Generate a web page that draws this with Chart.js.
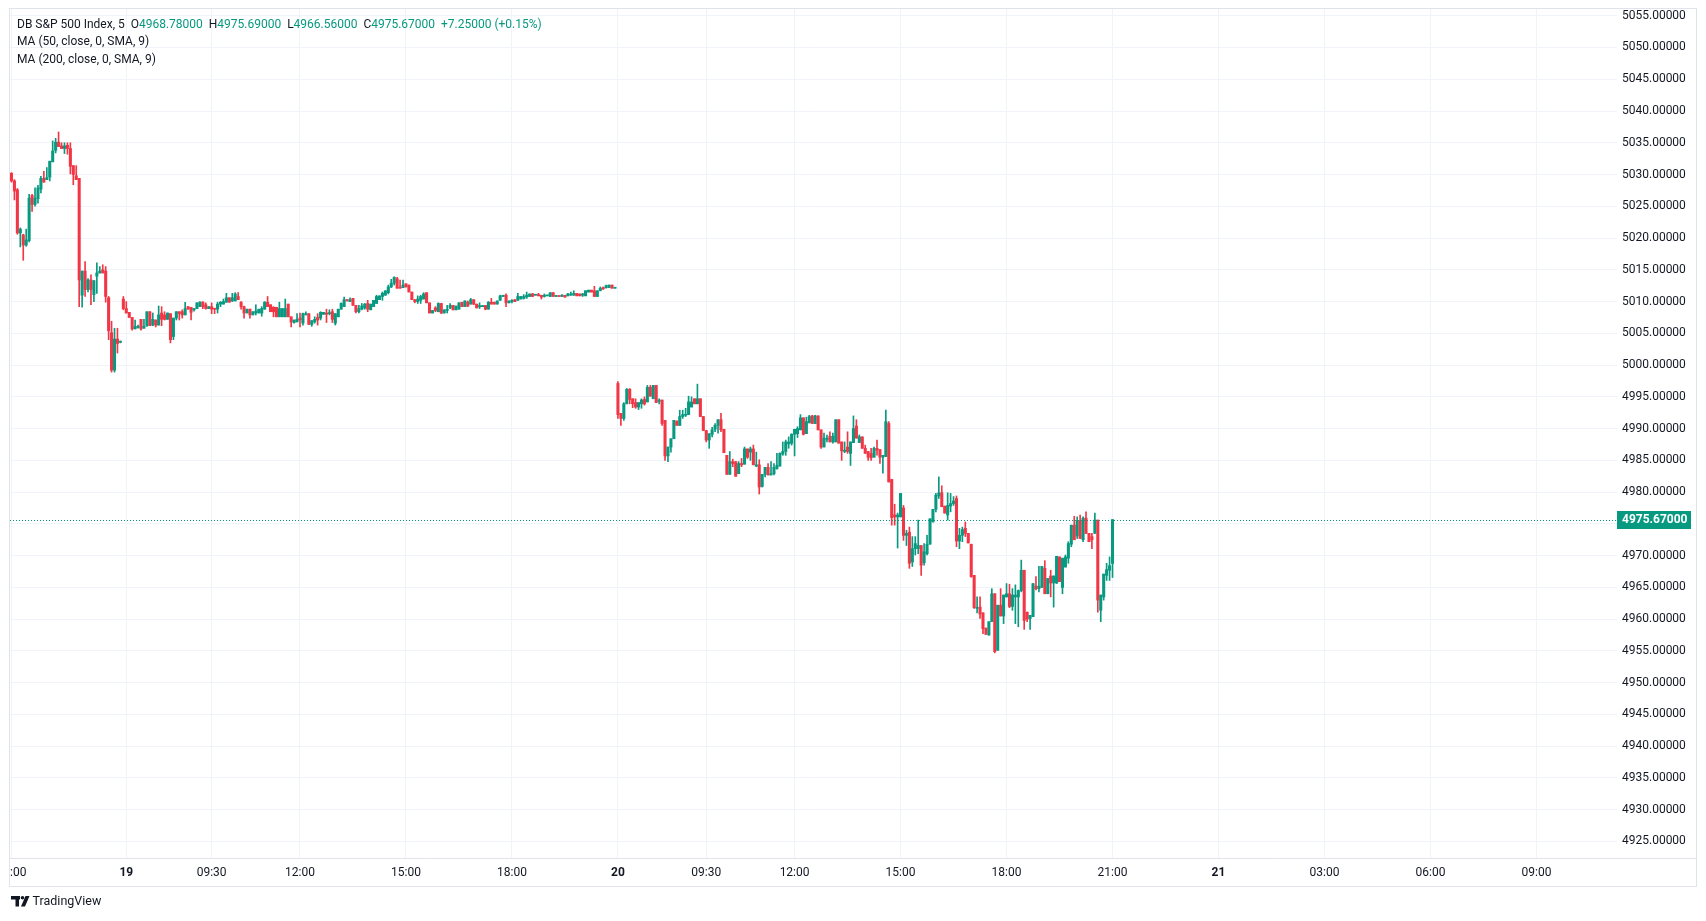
<!DOCTYPE html>
<html>
<head>
<meta charset="utf-8">
<script src="https://cdn.jsdelivr.net/npm/chart.js@4.4.1/dist/chart.umd.min.js"></script>
<style>
  html, body { margin: 0; padding: 0; background: #ffffff; }
  #wrap { width: 1706px; height: 921px; }
</style>
</head>
<body>
<div id="wrap"><canvas id="chart" width="1706" height="921"></canvas></div>
<script>
// 5 minute candles, [open, high, low, close]
const session19 = [
  [5030.2,5030.3,5028.8,5029.0],[5029.0,5029.2,5026.0,5027.4],[5027.6,5027.8,5020.6,5020.8],[5020.8,5021.6,5018.6,5021.4],
  [5020.5,5020.6,5016.5,5018.9],[5018.9,5021.4,5018.7,5019.7],[5019.6,5026.9,5019.4,5026.3],[5026.7,5026.9,5024.2,5025.3],
  [5025.3,5027.9,5025.0,5026.3],[5026.2,5028.3,5025.5,5027.9],[5027.7,5029.7,5027.1,5029.4],[5029.4,5030.5,5028.8,5028.8],
  [5029.2,5031.1,5029.2,5029.5],[5029.6,5032.1,5029.0,5032.1],[5032.0,5035.3,5032.0,5033.7],[5033.8,5035.7,5033.4,5035.1],
  [5035.1,5036.7,5034.4,5034.4],[5034.5,5035.0,5034.1,5034.1],[5034.1,5035.0,5033.3,5034.5],[5034.6,5035.0,5033.2,5034.1],
  [5034.1,5035.0,5030.1,5031.3],[5031.4,5031.4,5028.4,5030.0],[5029.8,5031.4,5029.2,5029.2],[5029.4,5029.4,5009.2,5013.4],
  [5011.0,5014.8,5009.1,5014.8],[5014.8,5016.3,5010.8,5011.9],[5011.9,5013.6,5011.5,5013.4],[5013.4,5014.2,5009.5,5011.9],
  [5011.1,5013.3,5010.0,5013.3],[5014.0,5016.1,5011.3,5014.5],[5014.5,5015.5,5014.5,5014.8],[5015.0,5015.8,5014.5,5014.5],
  [5014.8,5015.5,5009.9,5010.8],[5010.6,5010.8,5004.0,5005.4],[5005.1,5006.9,4998.9,4999.2],[4999.2,5005.8,4998.9,5004.1],
  [5004.1,5005.8,5001.9,5003.4],[5003.6,5003.8,5003.5,5003.7],[5010.4,5010.8,5008.7,5008.9],[5008.9,5010.0,5008.2,5008.2],
  [5008.3,5008.3,5007.5,5007.5],[5007.5,5007.5,5005.5,5005.7],[5005.7,5007.1,5005.7,5006.1],[5005.9,5006.3,5005.8,5006.1],
  [5007.2,5007.2,5005.5,5005.7],[5005.8,5007.2,5005.8,5006.1],[5006.2,5008.4,5006.1,5008.4],[5008.4,5008.4,5006.2,5006.2],
  [5006.3,5008.2,5006.2,5007.2],[5007.1,5007.1,5006.0,5006.3],[5006.3,5009.3,5006.3,5007.9],[5008.2,5009.2,5006.2,5007.2],
  [5007.9,5008.4,5007.1,5007.2],[5007.2,5008.2,5007.2,5008.2],[5008.1,5008.1,5003.5,5004.0],[5004.5,5007.4,5004.0,5007.4],
  [5007.4,5008.4,5007.1,5008.4],[5008.4,5008.4,5007.1,5008.1],[5008.4,5008.7,5007.4,5007.9],[5007.9,5009.9,5007.9,5008.9],
  [5009.2,5009.2,5008.8,5008.8],[5009.1,5009.1,5007.1,5008.3],[5008.7,5008.9,5008.5,5008.9],[5008.9,5009.8,5008.9,5009.8],
  [5009.2,5010.0,5009.2,5009.9],[5009.9,5010.0,5008.9,5009.2],[5009.5,5009.8,5008.8,5008.9],[5008.9,5009.2,5008.9,5009.2],
  [5009.2,5009.8,5008.1,5008.8],[5008.9,5008.9,5008.1,5008.8],[5008.8,5009.9,5008.2,5009.6],[5009.6,5010.0,5009.2,5009.9],
  [5009.6,5010.4,5009.6,5010.0],[5009.9,5011.3,5009.9,5010.6],[5010.6,5010.6,5009.9,5009.9],[5010.1,5011.3,5010.0,5010.6],
  [5010.1,5011.4,5010.1,5011.2],[5010.8,5011.4,5010.3,5010.3],[5009.9,5010.0,5008.8,5009.2],[5009.2,5009.3,5007.4,5008.2],
  [5008.2,5008.8,5008.2,5008.8],[5008.8,5008.8,5007.4,5007.9],[5007.9,5008.4,5007.9,5008.4],[5008.2,5009.5,5007.9,5008.5],
  [5008.2,5008.8,5008.2,5008.8],[5008.2,5009.2,5007.7,5008.9],[5008.8,5010.0,5008.8,5009.9],[5009.9,5010.8,5009.2,5009.2],
  [5009.5,5009.5,5008.4,5008.4],[5009.1,5009.2,5007.6,5008.4],[5009.1,5009.1,5007.6,5007.6],[5007.6,5009.9,5007.6,5008.9],
  [5007.6,5008.9,5007.6,5008.9],[5007.6,5010.4,5007.6,5008.9],[5009.6,5009.6,5007.6,5007.6],[5007.6,5007.6,5006.0,5006.8],
  [5006.7,5007.1,5006.6,5007.1],[5006.8,5008.1,5006.8,5007.2],[5007.4,5008.2,5006.0,5007.1],[5006.6,5008.2,5006.3,5008.1],
  [5007.9,5008.4,5007.9,5008.1],[5008.1,5008.1,5006.4,5006.4],[5006.4,5007.0,5006.1,5007.0],[5006.8,5007.6,5006.6,5007.2],
  [5007.5,5008.1,5006.3,5007.1],[5007.4,5008.4,5007.1,5008.3],[5008.0,5008.3,5008.0,5008.3],[5008.2,5008.8,5006.7,5008.0],
  [5008.1,5008.7,5007.9,5008.2],[5008.4,5008.8,5006.7,5007.2],[5006.6,5008.1,5006.3,5008.1],[5007.6,5008.8,5007.6,5008.8],
  [5008.8,5009.8,5008.8,5009.7],[5009.2,5010.7,5009.2,5010.3],[5010.3,5010.3,5010.1,5010.1],[5010.0,5010.6,5010.0,5010.3],
  [5010.5,5010.5,5009.4,5009.4],[5009.4,5009.4,5008.2,5008.4],[5008.4,5009.4,5008.2,5008.9],[5008.8,5009.7,5008.7,5009.3],
  [5009.0,5009.7,5008.8,5009.6],[5009.7,5010.2,5008.4,5008.8],[5008.7,5009.6,5008.7,5009.6],[5009.2,5010.2,5009.2,5010.2],
  [5009.7,5011.0,5009.7,5010.8],[5010.3,5010.9,5010.3,5010.9],[5010.8,5011.5,5010.2,5011.3],[5011.0,5011.7,5011.0,5011.7],
  [5011.4,5012.6,5011.2,5012.3],[5012.3,5013.5,5012.2,5012.9],[5012.9,5013.9,5012.6,5013.8],[5013.6,5013.8,5012.1,5012.1],
  [5012.2,5013.4,5012.1,5012.1],[5012.2,5013.4,5012.2,5012.6],[5012.8,5012.8,5012.3,5012.3],[5012.6,5012.6,5011.5,5011.5],
  [5011.5,5011.5,5010.3,5010.3],[5010.3,5010.3,5009.8,5010.0],[5010.0,5010.9,5009.7,5010.4],[5010.2,5011.0,5009.7,5010.8],
  [5010.4,5011.4,5010.4,5011.2],[5011.4,5011.4,5009.8,5009.8],[5009.8,5009.8,5008.2,5008.2],[5008.2,5008.6,5008.2,5008.6],
  [5009.0,5009.2,5008.4,5008.6],[5008.4,5009.8,5008.4,5009.7],[5009.7,5009.7,5008.1,5008.2],[5008.2,5008.7,5008.2,5008.7],
  [5008.6,5009.4,5008.2,5008.8],[5009.0,5009.7,5008.9,5009.4],[5009.4,5009.4,5008.7,5008.7],[5008.7,5009.3,5008.7,5009.3],
  [5008.8,5009.8,5008.8,5009.8],[5009.9,5009.9,5009.2,5009.2],[5009.2,5010.1,5009.2,5010.1],[5009.9,5010.1,5009.2,5009.3],
  [5009.6,5010.5,5009.6,5010.3],[5010.3,5010.3,5009.5,5009.6],[5009.6,5009.6,5009.0,5009.0],[5009.2,5009.8,5008.9,5009.3],
  [5009.2,5009.4,5009.2,5009.3],[5009.4,5009.4,5008.7,5008.8],[5008.8,5010.0,5008.8,5009.9],[5009.9,5010.5,5009.6,5009.6],
  [5009.9,5009.9,5009.6,5009.6],[5009.6,5010.1,5009.6,5010.1],[5010.2,5011.0,5010.2,5010.9],[5010.8,5011.0,5010.8,5011.0],
  [5011.0,5011.2,5009.2,5009.8],[5009.8,5010.1,5009.8,5010.1],[5010.0,5010.3,5009.8,5010.2],[5010.3,5010.3,5010.0,5010.0],
  [5010.2,5011.3,5010.2,5010.8],[5010.4,5010.8,5010.4,5010.8],[5010.5,5011.1,5010.4,5010.8],[5010.7,5011.5,5010.5,5011.0],
  [5010.8,5011.2,5010.8,5011.2],[5011.2,5011.3,5010.8,5010.8],[5011.0,5011.1,5011.0,5011.1],[5011.1,5011.3,5010.9,5010.9],
  [5011.0,5011.0,5010.4,5010.7],[5010.8,5011.2,5010.7,5011.0],[5010.9,5011.0,5010.9,5011.0],[5010.8,5011.4,5010.8,5011.4],
  [5011.4,5011.4,5010.8,5010.8],[5010.8,5011.0,5010.8,5010.9],[5010.9,5010.9,5010.8,5010.8],[5010.8,5011.1,5010.8,5011.0],
  [5011.0,5011.0,5010.7,5010.7],[5010.9,5011.3,5010.9,5011.2],[5011.0,5011.5,5011.0,5011.2],[5011.0,5011.7,5011.0,5011.3],
  [5011.3,5011.3,5010.9,5010.9],[5011.2,5011.2,5010.9,5010.9],[5011.0,5011.3,5010.8,5011.2],[5010.9,5011.7,5010.9,5011.7],
  [5011.5,5011.8,5011.5,5011.8],[5011.8,5011.8,5011.5,5011.5],[5011.7,5012.4,5010.8,5010.8],[5010.8,5011.7,5010.8,5011.7],
  [5011.7,5012.3,5011.7,5012.1],[5012.2,5012.3,5011.9,5012.0],[5012.2,5012.6,5012.1,5012.5],[5012.2,5012.6,5012.2,5012.6],
  [5012.6,5012.6,5012.1,5012.1],[5012.1,5012.2,5012.1,5012.2]
];

const session20 = [
  [4997.1,4997.4,4991.6,4992.2],[4992.4,4992.4,4990.5,4991.6],[4991.6,4994.1,4991.3,4993.9],[4993.9,4996.3,4993.9,4996.2],
  [4996.2,4996.3,4993.9,4994.6],[4994.7,4994.7,4993.3,4993.9],[4994.1,4994.7,4993.2,4993.4],[4993.4,4994.1,4993.0,4994.1],
  [4993.9,4994.7,4993.2,4994.5],[4994.6,4995.0,4993.7,4993.9],[4994.2,4996.8,4994.2,4996.5],[4996.5,4996.8,4995.1,4995.1],
  [4994.7,4996.8,4994.7,4996.8],[4996.8,4996.8,4994.1,4994.1],[4994.3,4994.7,4993.9,4994.5],[4994.5,4994.5,4990.5,4990.8],
  [4991.3,4991.3,4985.0,4985.7],[4985.7,4987.1,4984.8,4987.1],[4987.1,4988.4,4986.3,4988.4],[4988.4,4991.3,4988.4,4991.3],
  [4991.2,4991.2,4990.5,4990.5],[4990.5,4992.9,4990.5,4991.9],[4991.9,4992.9,4991.6,4992.2],[4992.1,4993.2,4991.9,4992.2],
  [4992.2,4995.1,4992.2,4994.2],[4993.4,4995.0,4993.4,4994.2],[4994.7,4994.7,4993.9,4993.9],[4993.9,4997.0,4993.9,4994.7],
  [4994.7,4994.7,4991.9,4991.9],[4991.9,4991.9,4989.7,4989.7],[4989.7,4989.7,4987.9,4988.2],[4988.2,4989.2,4986.9,4989.2],
  [4989.1,4990.2,4988.7,4989.8],[4989.9,4990.8,4989.5,4990.5],[4990.5,4991.4,4989.3,4991.4],[4991.4,4992.4,4989.5,4989.8],
  [4989.9,4989.9,4986.2,4986.2],[4985.8,4985.8,4982.8,4982.8],[4982.8,4986.4,4982.8,4984.8],[4984.8,4985.2,4984.0,4984.5],
  [4984.8,4984.8,4982.5,4982.5],[4982.9,4984.8,4982.9,4984.5],[4984.5,4985.3,4984.0,4984.3],[4984.4,4987.1,4984.4,4986.8],
  [4986.8,4986.8,4985.3,4985.5],[4986.3,4987.1,4985.0,4986.8],[4986.8,4987.4,4984.3,4984.3],[4984.1,4986.3,4984.0,4984.3],
  [4984.3,4985.1,4979.7,4980.8],[4980.9,4982.8,4980.8,4982.8],[4982.8,4983.9,4982.4,4983.9],[4983.9,4984.5,4982.7,4982.7],
  [4982.7,4984.8,4982.7,4982.9],[4982.9,4984.5,4982.7,4983.9],[4983.7,4986.1,4983.6,4984.2],[4984.1,4986.2,4984.1,4986.1],
  [4986.0,4987.9,4985.8,4986.4],[4986.4,4988.2,4985.8,4987.9],[4987.6,4988.7,4986.9,4987.9],[4987.7,4989.2,4987.4,4989.1],
  [4989.1,4989.9,4985.7,4989.9],[4989.2,4990.3,4988.6,4990.0],[4989.8,4992.2,4989.8,4991.7],[4991.7,4991.7,4989.0,4989.1],
  [4989.2,4991.8,4989.2,4991.1],[4990.9,4992.1,4990.9,4991.9],[4992.0,4992.1,4990.8,4990.8],[4990.8,4992.1,4990.8,4992.0],
  [4992.0,4992.0,4989.8,4989.8],[4989.8,4989.8,4986.9,4987.1],[4987.1,4989.3,4987.1,4988.5],[4988.3,4989.0,4987.9,4988.5],
  [4988.8,4989.5,4987.9,4987.9],[4987.9,4989.3,4987.7,4988.8],[4987.9,4991.4,4987.9,4991.4],[4991.4,4991.4,4987.7,4987.7],
  [4987.9,4987.9,4985.0,4986.5],[4986.4,4987.9,4986.2,4986.6],[4987.1,4989.5,4986.1,4986.4],[4986.1,4987.9,4984.2,4987.9],
  [4987.8,4992.0,4987.8,4990.0],[4990.4,4991.4,4988.5,4988.5],[4987.8,4989.0,4987.8,4988.7],[4988.7,4988.7,4986.9,4986.9],
  [4986.9,4987.4,4986.1,4986.1],[4986.4,4986.4,4985.0,4985.5],[4986.1,4986.9,4985.0,4985.4],[4985.5,4987.1,4985.5,4986.9],
  [4986.9,4988.2,4985.8,4986.6],[4986.7,4986.7,4984.5,4985.5],[4985.5,4985.8,4983.0,4985.8],[4985.6,4992.9,4985.6,4991.1],
  [4990.8,4991.1,4981.6,4981.6],[4982.0,4982.0,4974.8,4976.0],[4976.4,4978.1,4974.8,4976.1],[4976.1,4976.7,4971.2,4976.4],
  [4976.1,4979.8,4976.1,4979.8],[4977.5,4977.9,4972.4,4973.2],[4973.2,4974.0,4971.6,4973.5],[4973.7,4974.5,4968.0,4968.8],
  [4969.0,4973.0,4968.3,4971.1],[4971.1,4973.0,4970.1,4971.9],[4971.1,4975.6,4970.3,4971.6],[4971.6,4971.6,4966.9,4968.5],
  [4968.9,4971.9,4968.5,4970.6],[4970.3,4973.2,4970.1,4971.8],[4971.8,4975.8,4971.8,4975.8],[4975.3,4977.3,4975.3,4977.3],
  [4977.3,4979.8,4976.9,4979.5],[4979.4,4982.4,4979.0,4979.9],[4979.9,4981.0,4977.7,4977.7],[4977.8,4977.8,4976.7,4976.7],
  [4976.4,4979.9,4975.6,4977.9],[4977.8,4979.8,4976.9,4978.2],[4978.2,4979.3,4977.9,4978.6],[4979.0,4979.4,4971.4,4972.3],
  [4972.3,4974.3,4971.1,4973.2],[4973.2,4974.5,4972.2,4974.1],[4974.3,4975.3,4973.0,4973.5],[4973.5,4973.5,4972.0,4972.0],
  [4971.8,4971.8,4966.6,4966.7],[4966.9,4966.9,4961.7,4961.8],[4961.7,4963.5,4961.0,4961.8],[4961.9,4963.5,4960.1,4960.8],
  [4961.0,4961.0,4957.7,4958.5],[4958.6,4958.6,4957.6,4957.6],[4957.5,4959.6,4957.5,4959.6],[4959.6,4964.8,4959.6,4964.0],
  [4964.0,4964.0,4954.7,4954.9],[4955.1,4962.2,4955.1,4962.2],[4962.2,4964.8,4960.5,4960.5],[4960.5,4963.8,4959.3,4963.8],
  [4963.5,4965.6,4963.5,4964.0],[4964.0,4965.5,4961.8,4962.0],[4962.0,4964.8,4961.4,4963.8],[4963.5,4965.4,4959.3,4963.8],
  [4963.5,4964.6,4958.8,4964.5],[4964.5,4969.3,4964.3,4967.7],[4967.7,4967.7,4958.4,4959.8],[4961.1,4961.1,4959.6,4960.0],
  [4960.1,4960.6,4958.4,4960.6],[4960.4,4965.6,4960.4,4965.6],[4965.2,4966.7,4964.6,4964.8],[4964.8,4968.3,4964.3,4965.2],
  [4965.0,4968.3,4965.0,4968.3],[4968.0,4969.2,4964.0,4964.0],[4964.0,4966.4,4964.0,4966.4],[4966.8,4967.7,4963.5,4965.7],
  [4965.7,4966.8,4961.9,4966.8],[4965.7,4969.9,4965.6,4969.9],[4969.8,4969.8,4965.9,4965.9],[4965.0,4969.6,4964.0,4969.6],
  [4968.2,4970.1,4968.2,4969.8],[4969.6,4972.2,4968.8,4971.9],[4971.8,4974.8,4971.4,4974.8],[4974.8,4976.2,4972.5,4972.5],
  [4973.1,4976.1,4972.7,4975.5],[4975.5,4976.4,4972.7,4972.7],[4972.5,4976.1,4972.2,4975.9],[4975.9,4976.9,4973.5,4973.5],
  [4973.5,4973.5,4972.2,4972.2],[4973.0,4973.5,4971.1,4972.5],[4973.5,4976.7,4973.5,4975.6],[4975.6,4975.6,4961.1,4963.0],
  [4961.4,4963.8,4959.6,4963.8],[4963.5,4967.1,4963.0,4967.1],[4966.9,4968.8,4966.1,4967.8],[4967.7,4969.8,4966.1,4968.42],
  [4968.78,4975.69,4966.56,4975.67]
];

const priceTicks = [4925,4930,4935,4940,4945,4950,4955,4960,4965,4970,4975,4980,4985,4990,4995,
  5000,5005,5010,5015,5020,5025,5030,5035,5040,5045,5050,5055];
const timeTickIdx = [0,39,68,98,134,170,206,236,266,302,338,374,410,446,482,518];
const timeTickText = ["18:00","19","09:30","12:00","15:00","18:00","20","09:30","12:00","15:00","18:00","21:00","21","03:00","06:00","09:00"];
const dayLabels = ["19","20","21"];

const symbolName = "DB S&P 500 Index, 5";
const maLines = ["MA (50, close, 0, SMA, 9)", "MA (200, close, 0, SMA, 9)"];

const UP = "#089981";
const DOWN = "#f23645";
const TEXT = "#131722";
const GRID = "#f0f3fa";
const BORDER = "#e0e3eb";
const FONT = "Roboto, 'Noto Sans', sans-serif";

const candles = session19.concat(session20);
const last = candles[candles.length - 1];
const prev = candles[candles.length - 2];

const colorOf = (i) => (candles[i][3] >= candles[i][0] ? UP : DOWN);

const wickData = candles.map((c, i) => ({ x: i, y: [c[2], c[1]] }));
const bodyData = candles.map((c, i) => ({ x: i, y: [Math.min(c[0], c[3]), Math.max(c[0], c[3])] }));

// stuff drawn on top: last price line + tag, header text, frame, logo
const overlay = {
  id: "overlay",
  afterDatasetsDraw(chart) {
    const { ctx, chartArea } = chart;
    const y = Math.round(chart.scales.y.getPixelForValue(last[3])) + 0.5;
    ctx.save();
    ctx.strokeStyle = UP;
    ctx.lineWidth = 1;
    ctx.setLineDash([1, 2]);
    ctx.beginPath();
    ctx.moveTo(chartArea.left, y);
    ctx.lineTo(chartArea.right, y);
    ctx.stroke();
    ctx.restore();
  },
  afterDraw(chart) {
    const { ctx, chartArea } = chart;
    const yScale = chart.scales.y;
    ctx.save();

    // hide the cut off first time label left of the frame
    ctx.fillStyle = "#ffffff";
    ctx.fillRect(0, 0, chartArea.left, chart.height);

    // frame
    ctx.strokeStyle = BORDER;
    ctx.lineWidth = 1;
    ctx.strokeRect(chartArea.left - 0.5, chartArea.top - 0.5, yScale.right - chartArea.left + 1, chart.scales.x.bottom - chartArea.top + 1);
    ctx.beginPath();
    ctx.moveTo(chartArea.left, chartArea.bottom + 0.5);
    ctx.lineTo(yScale.right, chartArea.bottom + 0.5);
    ctx.stroke();

    // last price tag
    const py = yScale.getPixelForValue(last[3]);
    ctx.fillStyle = UP;
    ctx.fillRect(chartArea.right, Math.round(py) - 9, 74, 18);
    ctx.fillStyle = "#ffffff";
    ctx.font = "bold 12px " + FONT;
    ctx.textBaseline = "middle";
    ctx.textAlign = "left";
    ctx.fillText(last[3].toFixed(5), chartArea.right + 5, py + 0.5);

    // header
    const chg = last[3] - prev[3];
    const pct = (chg / prev[3]) * 100;
    const sign = chg >= 0 ? "+" : "";
    const parts = [
      [symbolName + "  O", TEXT], [last[0].toFixed(5), UP],
      ["  H", TEXT], [last[1].toFixed(5), UP],
      ["  L", TEXT], [last[2].toFixed(5), UP],
      ["  C", TEXT], [last[3].toFixed(5), UP],
      ["  " + sign + chg.toFixed(5) + " (" + sign + pct.toFixed(2) + "%)", UP]
    ];
    ctx.font = "12px " + FONT;
    let x = 17;
    parts.forEach(([t, col]) => {
      ctx.fillStyle = col;
      ctx.fillText(t, x, 25);
      x += ctx.measureText(t).width;
    });
    ctx.fillStyle = TEXT;
    maLines.forEach((t, k) => ctx.fillText(t, 17, 42 + k * 17.5));

    // TradingView mark
    ctx.fillStyle = TEXT;
    ctx.fillRect(11, 896, 9, 3.5);
    ctx.fillRect(15.5, 896, 3.5, 10.5);
    ctx.beginPath();
    ctx.arc(22.5, 897.8, 1.8, 0, Math.PI * 2);
    ctx.fill();
    ctx.beginPath();
    ctx.moveTo(25.5, 896);
    ctx.lineTo(29.5, 896);
    ctx.lineTo(25, 906.5);
    ctx.lineTo(21, 906.5);
    ctx.closePath();
    ctx.fill();
    ctx.font = "12.5px " + FONT;
    ctx.fillText("TradingView", 32.5, 902);

    ctx.restore();
  }
};

new Chart(document.getElementById("chart"), {
  type: "bar",
  data: {
    datasets: [
      {
        label: "wick",
        data: wickData,
        backgroundColor: (c) => colorOf(c.dataIndex),
        barThickness: 1,
        grouped: false,
        order: 2
      },
      {
        label: "body",
        data: bodyData,
        backgroundColor: (c) => colorOf(c.dataIndex),
        barThickness: 2.4,
        minBarLength: 1,
        grouped: false,
        order: 1
      }
    ]
  },
  options: {
    responsive: false,
    animation: false,
    layout: { padding: { left: 10, top: 9, right: 10, bottom: 35 } },
    plugins: { legend: { display: false }, tooltip: { enabled: false } },
    scales: {
      x: {
        type: "linear",
        offset: false,
        min: -0.5,
        max: 545.36,
        afterFit: (s) => { s.height = 28; s.paddingLeft = 0; s.paddingRight = 0; },
        afterBuildTicks: (s) => { s.ticks = timeTickIdx.map((v) => ({ value: v })); },
        grid: { color: GRID, drawTicks: false, offset: false },
        border: { display: false },
        ticks: {
          autoSkip: false,
          maxRotation: 0,
          padding: 8,
          color: TEXT,
          font: (c) => ({
            family: FONT,
            size: 12,
            weight: dayLabels.includes(timeTickText[c.index]) ? "bold" : "normal"
          }),
          callback: (v, i) => timeTickText[i]
        }
      },
      y: {
        position: "right",
        min: 4922.4,
        max: 5056.06,
        afterFit: (s) => { s.width = 79; s.paddingTop = 0; s.paddingBottom = 0; },
        afterBuildTicks: (s) => { s.ticks = priceTicks.map((v) => ({ value: v })); },
        grid: { color: GRID, drawTicks: false },
        border: { display: false },
        ticks: {
          padding: 5,
          color: TEXT,
          font: { family: FONT, size: 12 },
          callback: (v) => v.toFixed(5)
        }
      }
    }
  },
  plugins: [overlay]
});
</script>
</body>
</html>
